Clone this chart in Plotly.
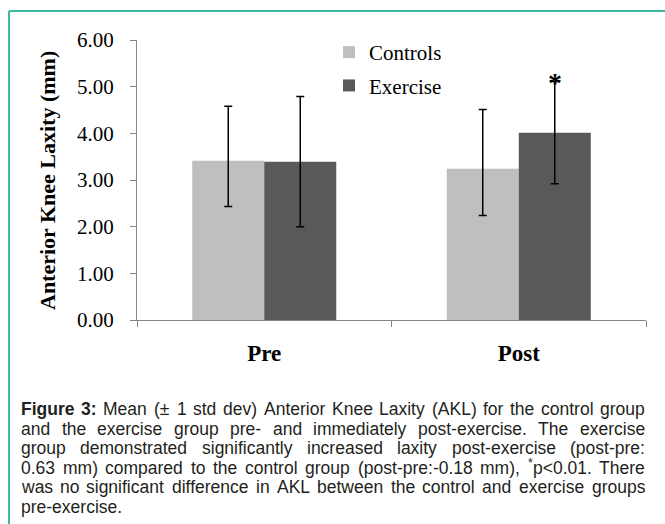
import plotly.graph_objects as go

# ---------------- data ----------------
categories = ["Pre", "Post"]
series_names = ["Controls", "Exercise"]
controls_mean = [3.41, 3.24]
controls_err_plus = [1.17, 1.27]
controls_err_minus = [0.98, 1.00]
exercise_mean = [3.39, 4.01]
exercise_err_plus = [1.40, 1.10]
exercise_err_minus = [1.39, 1.09]
y_tick_values = [0, 1, 2, 3, 4, 5, 6]
y_title = "Anterior Knee Laxity (mm)"
sig_marker = "*"
caption_lines = [
    ["<b>Figure</b>", "<b>3:</b>", "Mean", "(±", "1", "std", "dev)", "Anterior", "Knee", "Laxity", "(AKL)", "for", "the", "control", "group"],
    ["and", "the", "exercise", "group", "pre-", "and", "immediately", "post-exercise.", "The", "exercise"],
    ["group", "demonstrated", "significantly", "increased", "laxity", "post-exercise", "(post-pre:"],
    ["0.63", "mm)", "compared", "to", "the", "control", "group", "(post-pre:-0.18", "mm),", "^*p&lt;0.01.", "There"],
    ["was", "no", "significant", "difference", "in", "AKL", "between", "the", "control", "and", "exercise", "groups"],
    ["pre-exercise."],
]

# ---------------- geometry helpers ----------------
W, H = 665, 524
L, R, T, B = 137, 19, 40, 204
PW, PH = W - L - R, H - T - B


def xp(px):
    return (px - L) / PW


def yp(py):
    return (H - B - py) / PH


# Arial / Liberation Sans advance widths (per 1000 em)
AW = {" ": 278, "(": 333, ")": 333, "*": 389, "+": 584, ",": 278, "-": 333, ".": 278, ":": 278,
      "<": 584, "±": 584, "A": 667, "K": 667, "L": 556, "M": 833, "T": 611, "F": 611,
      "a": 556, "b": 556, "c": 500, "d": 556, "e": 556, "f": 278, "g": 556, "h": 556, "i": 222,
      "j": 222, "k": 500, "l": 222, "m": 833, "n": 556, "o": 556, "p": 556, "q": 556, "r": 333,
      "s": 500, "t": 278, "u": 556, "v": 500, "w": 722, "x": 500, "y": 500, "z": 500}
ABW = {"F": 611, "i": 278, "g": 611, "u": 611, "r": 389, "e": 556, "3": 556, ":": 333}
SUP_SCALE = 0.7


def plain_width(text, size, bold=False):
    text = text.replace("&lt;", "<")
    table = ABW if bold else AW
    total = 0.0
    for c in text:
        if c.isdigit():
            total += 556
        else:
            total += table.get(c, AW.get(c, 556))
    return total * size / 1000.0


def word_parts(word):
    """Split a caption word into (text, bold, superscript) parts."""
    if word.startswith("<b>"):
        return [(word.replace("<b>", "").replace("</b>", ""), True, False)]
    if word.startswith("^"):
        return [(word[1], False, True), (word[2:], False, False)]
    return [(word, False, False)]


def part_width(part, size):
    text, bold, sup = part
    return plain_width(text, size * SUP_SCALE if sup else size, bold)


fig = go.Figure()
fig.add_trace(go.Bar(
    x=categories, y=controls_mean, name=series_names[0], legendgroup="a",
    marker=dict(color="#bfbfbf", line=dict(width=0)),
    error_y=dict(type="data", symmetric=False, array=controls_err_plus,
                 arrayminus=controls_err_minus, color="black", thickness=1.5, width=4),
))
fig.add_trace(go.Bar(
    x=categories, y=exercise_mean, name=series_names[1], legendgroup="b",
    marker=dict(color="#595959", line=dict(width=0)),
    error_y=dict(type="data", symmetric=False, array=exercise_err_plus,
                 arrayminus=exercise_err_minus, color="black", thickness=1.5, width=4),
))

bargap = 0.434
serif = "Liberation Serif"
sans = "Liberation Sans"
teal = "#3bb9a1"

annotations = []
# y-axis title
annotations.append(dict(
    x=xp(47), y=yp(181), xref="paper", yref="paper", text="<b>%s</b>" % y_title,
    textangle=-90, showarrow=False, font=dict(family=serif, size=22, color="black"),
    xanchor="center", yanchor="middle"))
# significance marker above Post / Exercise bar
annotations.append(dict(
    x=1 + (1 - bargap) / 4, y=exercise_mean[1] + exercise_err_plus[1], xref="x", yref="y",
    text="<b>%s</b>" % sig_marker, showarrow=False,
    font=dict(family=serif, size=28, color="black"), xanchor="center", yanchor="middle",
    yshift=-1))

# caption, justified word by word
cap_size = 17.5
cap_left, cap_right = 21, 645
line_y = [409, 428.5, 448, 467.5, 487, 506.5]
for i, words in enumerate(caption_lines):
    parts_list = [word_parts(w) for w in words]
    widths = [sum(part_width(p, cap_size) for p in parts) for parts in parts_list]
    justify = i < len(caption_lines) - 1 and len(words) > 1
    if justify:
        gap = (cap_right - cap_left - sum(widths)) / (len(words) - 1)
    else:
        gap = 278 * cap_size / 1000.0
    x = cap_left
    for parts, wd in zip(parts_list, widths):
        px = x
        for part in parts:
            text, bold, sup = part
            size = cap_size * SUP_SCALE if sup else cap_size
            annotations.append(dict(
                x=xp(px), y=yp(line_y[i]), xref="paper", yref="paper",
                text="<b>%s</b>" % text if bold else text, showarrow=False,
                font=dict(family=sans, size=size, color="#231f20"), xanchor="left",
                yanchor="middle", borderpad=0, borderwidth=0, yshift=5 if sup else 0))
            px += part_width(part, cap_size)
        x += wd + gap

# frame lines (left + top)
shapes = [
    dict(type="line", xref="paper", yref="paper", x0=xp(9), x1=xp(9), y0=yp(H + 2), y1=yp(11),
         line=dict(color=teal, width=2)),
    dict(type="line", xref="paper", yref="paper", x0=xp(9), x1=xp(W + 2), y0=yp(11), y1=yp(11),
         line=dict(color=teal, width=2)),
]

fig.update_layout(
    width=W, height=H,
    margin=dict(l=L, r=R, t=T, b=B, autoexpand=False),
    paper_bgcolor="white", plot_bgcolor="white",
    barmode="group", bargap=bargap, bargroupgap=0,
    showlegend=True,
    legend=dict(x=xp(329), y=yp(32), xanchor="left", yanchor="top",
                font=dict(family=serif, size=21, color="black"),
                bgcolor="rgba(0,0,0,0)", tracegroupgap=3, itemclick=False),
    annotations=annotations,
    shapes=shapes,
    xaxis=dict(
        type="category", range=[-0.5, 1.5], tickson="boundaries", ticks="outside", ticklen=6,
        tickcolor="#868686", showline=True, linecolor="#868686", linewidth=1, showgrid=False,
        tickfont=dict(family=serif, size=23, color="black", weight="bold"),
        ticklabelstandoff=12, fixedrange=True),
    yaxis=dict(
        range=[0, 6], tickvals=y_tick_values, tickformat=".2f", ticks="outside", ticklen=6,
        tickcolor="#868686", showline=True, linecolor="#868686", linewidth=1, showgrid=False,
        zeroline=False, tickfont=dict(family=serif, size=21, color="black"),
        ticklabelstandoff=12, fixedrange=True),
)

fig.write_html("out.html")
